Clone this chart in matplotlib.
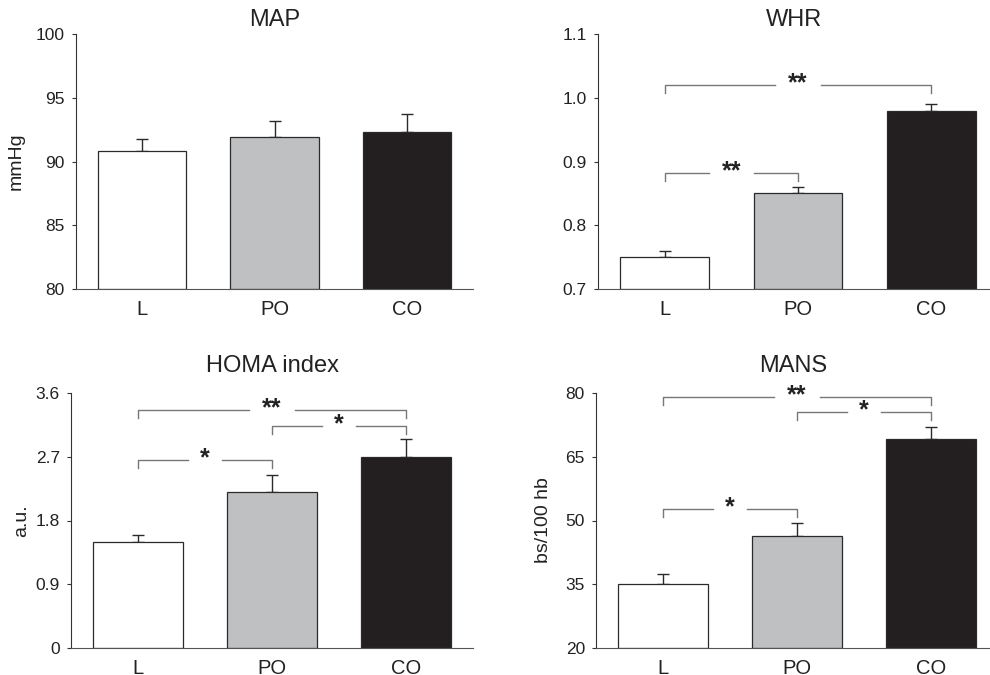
import matplotlib
matplotlib.use("Agg")
import matplotlib.pyplot as plt

plt.rcParams['font.family'] = ['Liberation Sans', 'DejaVu Sans']

groups = ["L", "PO", "CO"]
colors = ["#ffffff", "#bfc0c2", "#231f20"]

# mean and upper error (SEM) per panel
map_mean = [90.8, 91.9, 92.3]
map_err = [1.0, 1.3, 1.4]
whr_mean = [0.75, 0.85, 0.98]
whr_err = [0.01, 0.01, 0.01]
homa_mean = [1.50, 2.20, 2.70]
homa_err = [0.10, 0.24, 0.25]
mans_mean = [35.0, 46.4, 69.1]
mans_err = [2.4, 3.0, 2.8]

# significance brackets: (from, to, height, label)
whr_sig = [(0, 1, 0.882, "**"), (0, 2, 1.020, "**")]
homa_sig = [(0, 1, 2.65, "*"), (1, 2, 3.13, "*"), (0, 2, 3.36, "**")]
mans_sig = [(0, 1, 52.6, "*"), (1, 2, 75.5, "*"), (0, 2, 79.06, "**")]

panels = [
    # title, ylabel, mean, err, ylim, yticks, ticklabels, sig, rect(px), xmax, title pad, labelpad
    ("MAP", "mmHg", map_mean, map_err, (80, 100), [80, 85, 90, 95, 100],
     ["80", "85", "90", "95", "100"], [], (76, 34, 473, 289), 2.5, 6, 8),
    ("WHR", "", whr_mean, whr_err, (0.7, 1.1), [0.7, 0.8, 0.9, 1.0, 1.1],
     ["0.7", "0.8", "0.9", "1.0", "1.1"], whr_sig, (598, 34, 990, 289), 2.44, 6, 8),
    ("HOMA index", "a.u.", homa_mean, homa_err, (0, 3.6), [0, 0.9, 1.8, 2.7, 3.6],
     ["0", "0.9", "1.8", "2.7", "3.6"], homa_sig, (71, 393, 473, 648), 2.5, 15, 4),
    ("MANS", "bs/100 hb", mans_mean, mans_err, (20, 80), [20, 35, 50, 65, 80],
     ["20", "35", "50", "65", "80"], mans_sig, (596, 393, 990, 648), 2.44, 15, 10),
]

W, H = 990, 675
fig = plt.figure(figsize=(W / 100, H / 100), dpi=100)
gap = {"*": 0.13, "**": 0.17}

for title, ylab, mean, err, ylim, yt, ytl, sig, (x0, y0, x1, y1), xmax, tpad, lpad in panels:
    ax = fig.add_axes([x0 / W, 1 - y1 / H, (x1 - x0) / W, (y1 - y0) / H])
    xs = range(len(groups))
    ax.bar(xs, [m - ylim[0] for m in mean], bottom=ylim[0], width=0.667,
           color=colors, edgecolor="#2a2a2a", linewidth=0.9, zorder=2)
    ax.errorbar(xs, mean, yerr=[[0] * 3, err], fmt="none", ecolor="#2a2a2a",
                elinewidth=1.0, capsize=4, capthick=1.0, zorder=1)
    drop = 0.031 * (ylim[1] - ylim[0])
    for i, j, y, lab in sig:
        mid = (i + j) / 2
        g = gap[lab]
        ax.plot([i, i, mid - g], [y - drop, y, y], color="#777777", lw=1.0)
        ax.plot([mid + g, j, j], [y, y, y - drop], color="#777777", lw=1.0)
        ax.text(mid, y + 0.008 * (ylim[1] - ylim[0]), lab, ha="center", va="center",
                fontsize=18, fontweight="bold", color="#222222")
    ax.set_xlim(-0.5, xmax)
    ax.set_ylim(*ylim)
    ax.set_yticks(yt)
    ax.set_yticklabels(ytl)
    ax.set_xticks(list(xs))
    ax.set_xticklabels(groups)
    ax.spines["top"].set_visible(False)
    ax.spines["right"].set_visible(False)
    ax.spines["left"].set_color("#333333")
    ax.spines["bottom"].set_color("#555555")
    ax.tick_params(axis="y", direction="out", length=3, width=0.8, color="#333333",
                   labelsize=12.5, pad=5, labelcolor="#222222")
    ax.tick_params(axis="x", length=0, labelsize=14.5, pad=8, labelcolor="#222222")
    ax.set_title(title, fontsize=17, pad=tpad, color="#222222")
    if ylab:
        ax.set_ylabel(ylab, fontsize=14, labelpad=lpad, color="#222222")

fig.savefig("out.png", dpi=100)
